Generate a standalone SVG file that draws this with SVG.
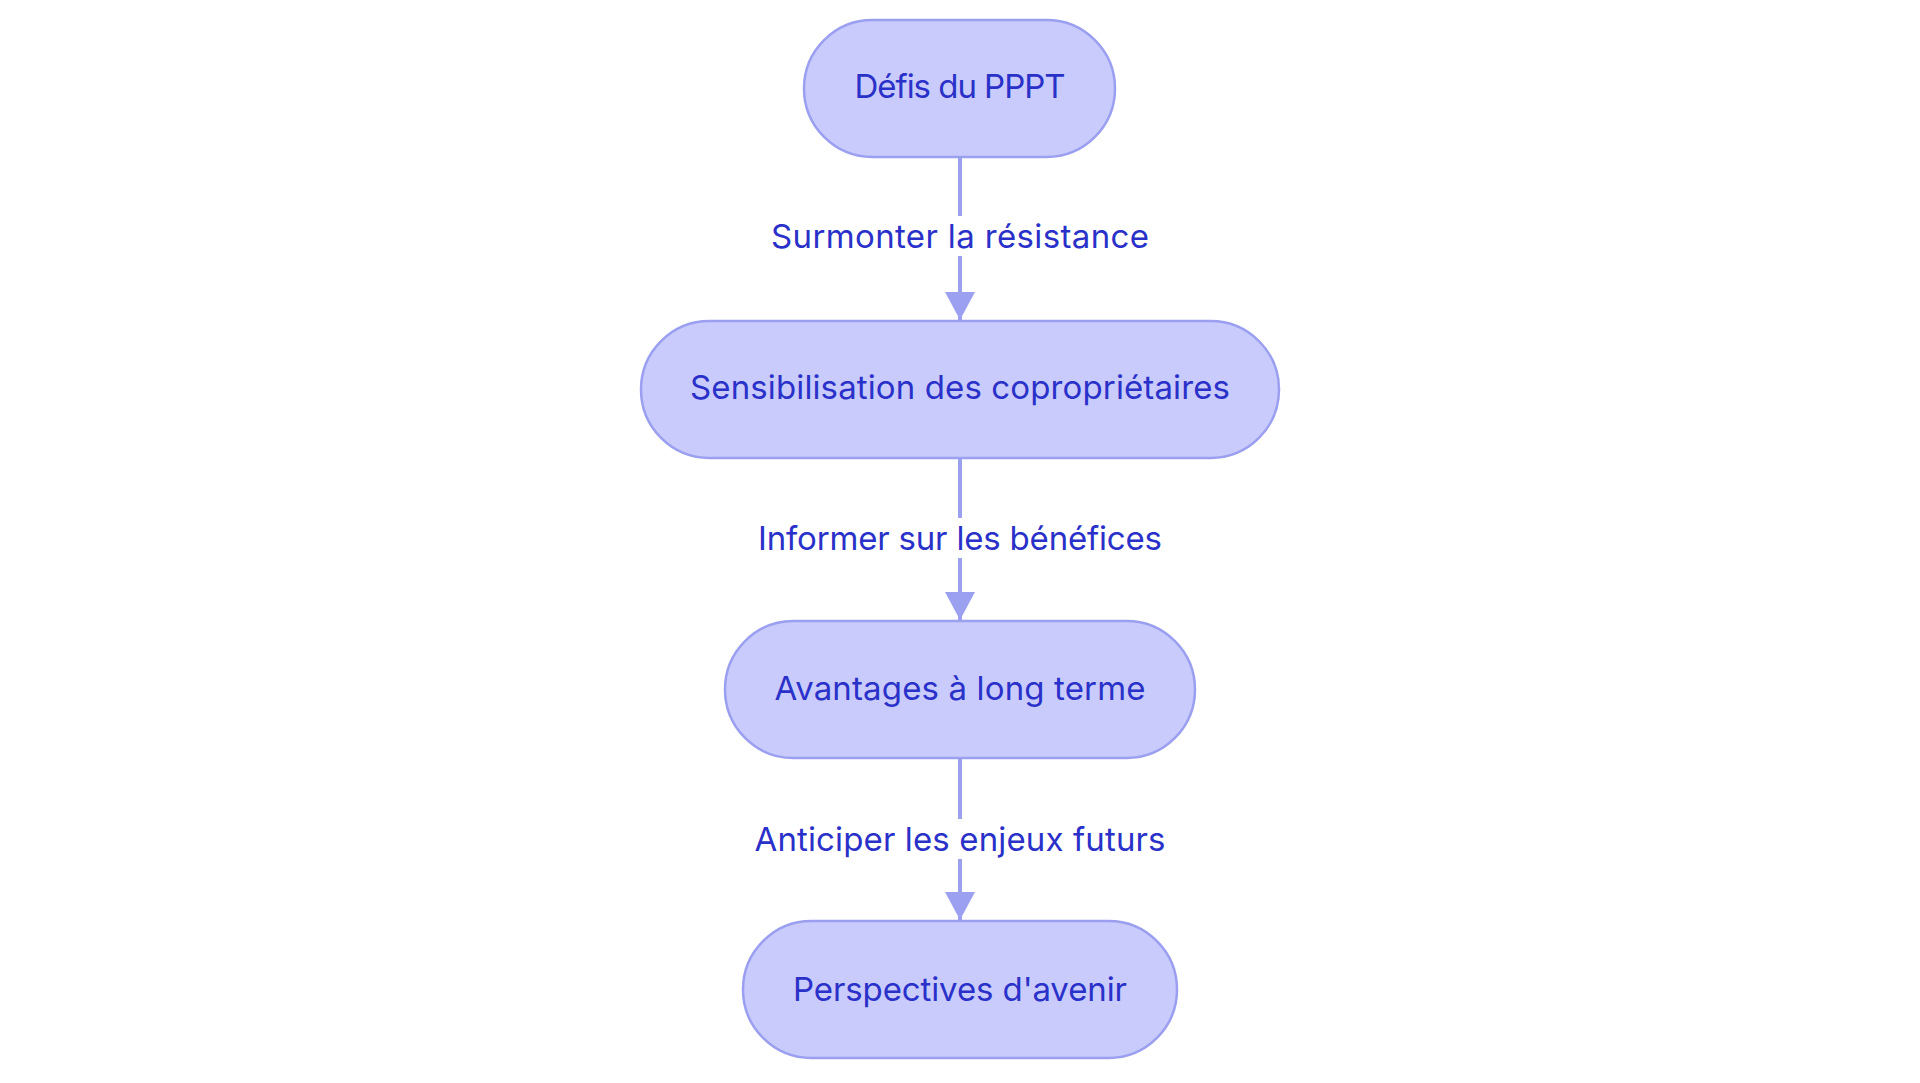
<svg xmlns="http://www.w3.org/2000/svg" width="1920" height="1083" viewBox="0 0 1920 1083">
<defs>
<style>
.node rect{fill:#c9cbfc;stroke:#9a9ff0;stroke-width:2.5}
.node text{font-family:Inter,"Noto Sans",sans-serif;font-size:33px;fill:#2a31c9;text-anchor:middle;dominant-baseline:central}
.edge{stroke:#9ba0f0;stroke-width:4;fill:none}
.lbl rect{fill:#ffffff}
.lbl text{font-family:Inter,"Noto Sans",sans-serif;font-size:33px;fill:#2a31c9;text-anchor:middle;dominant-baseline:central}
</style>
<marker id="ah" markerWidth="30" markerHeight="30" refX="28" refY="15" orient="auto" markerUnits="userSpaceOnUse">
<path d="M0,0 L28,15 L0,30 z" fill="#9ba0f0"/>
</marker>
</defs>
<rect width="1920" height="1083" fill="#ffffff"/>
<g id="connectors">
<line class="edge" x1="960" y1="157" x2="960" y2="320" marker-end="url(#ah)"/>
<line class="edge" x1="960" y1="458" x2="960" y2="620" marker-end="url(#ah)"/>
<line class="edge" x1="960" y1="758" x2="960" y2="920" marker-end="url(#ah)"/>
<g class="lbl"><rect x="768" y="216" width="384" height="40"/><text x="960" y="236" textLength="378">Surmonter la résistance</text></g>
<g class="lbl"><rect x="756" y="518" width="408" height="40"/><text x="960" y="538" textLength="404">Informer sur les bénéfices</text></g>
<g class="lbl"><rect x="752" y="819" width="416" height="40"/><text x="960" y="839" textLength="411">Anticiper les enjeux futurs</text></g>
</g>
<g id="n1" class="node"><rect x="804" y="20" width="311" height="137" rx="68.5"/><text x="960" y="86" textLength="211">Défis du PPPT</text></g>
<g id="n2" class="node"><rect x="641" y="321" width="638" height="137" rx="68.5"/><text x="960" y="387" textLength="540">Sensibilisation des copropriétaires</text></g>
<g id="n3" class="node"><rect x="725" y="621" width="470" height="137" rx="68.5"/><text x="960" y="688" textLength="371">Avantages à long terme</text></g>
<g id="n4" class="node"><rect x="743" y="921" width="434" height="137" rx="68.5"/><text x="960" y="989" textLength="334">Perspectives d'avenir</text></g>
</svg>
